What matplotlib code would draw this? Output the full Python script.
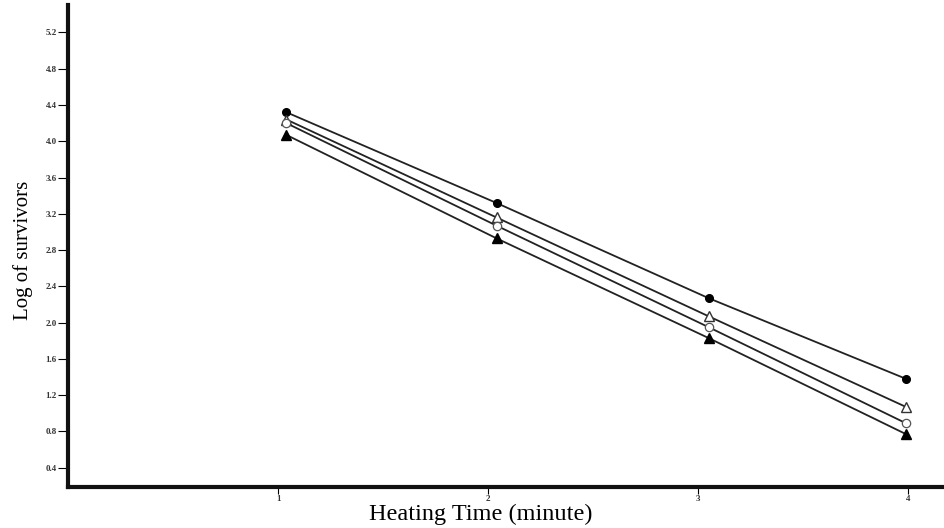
import matplotlib
matplotlib.use('Agg')
import matplotlib.pyplot as plt

# heating time (minutes) as plotted
time = [1.04, 2.04, 3.05, 3.99]

# log of survivors for each series
filled_circle = [4.32, 3.32, 2.27, 1.38]
open_triangle = [4.24, 3.16, 2.07, 1.07]
open_circle = [4.20, 3.07, 1.95, 0.89]
filled_triangle = [4.07, 2.93, 1.83, 0.77]

yticks = [0.4, 0.8, 1.2, 1.6, 2.0, 2.4, 2.8, 3.2, 3.6, 4.0, 4.4, 4.8, 5.2]
xticks = [1, 2, 3, 4]

plt.rcParams['font.family'] = ['Liberation Serif', 'DejaVu Serif']

fig = plt.figure(figsize=(9.44, 5.28), dpi=100)
ax = fig.add_axes([0.072, 0.078, 0.928, 0.912])

lc = '#222222'
ax.plot(time, filled_circle, '-', color=lc, lw=1.3, marker='o', ms=5.5,
        mfc='black', mec='black')
ax.plot(time, open_triangle, '-', color=lc, lw=1.3, marker='^', ms=7.5,
        mfc='white', mec='#333333', mew=1.0)
ax.plot(time, open_circle, '-', color=lc, lw=1.3, marker='o', ms=6,
        mfc='white', mec='#555555', mew=0.9)
ax.plot(time, filled_triangle, '-', color=lc, lw=1.3, marker='^', ms=7.5,
        mfc='black', mec='black')

ax.set_xlim(0.0, 4.17)
ax.set_ylim(0.19, 5.5)

ax.set_yticks(yticks)
ax.set_yticklabels(['%.1f' % v for v in yticks], fontsize=6.5, fontweight='bold',
                   color='#333333')
ax.set_xticks(xticks)
ax.set_xticklabels([str(v) for v in xticks], fontsize=6.5, fontweight='bold',
                   color='#333333')
ax.tick_params(axis='y', direction='out', length=7, width=0.8, pad=1)
ax.tick_params(axis='x', direction='out', length=5, width=0.8, pad=1)

for s in ['top', 'right']:
    ax.spines[s].set_visible(False)
for s in ['left', 'bottom']:
    ax.spines[s].set_linewidth(3)
    ax.spines[s].set_color('#111111')

ax.set_ylabel('Log of survivors', fontsize=15)
ax.yaxis.set_label_coords(-0.04, 0.49)
ax.set_xlabel('Heating Time (minute)', fontsize=17.5)
ax.xaxis.set_label_coords(0.471, -0.035)

fig.savefig('out.png', dpi=100)
